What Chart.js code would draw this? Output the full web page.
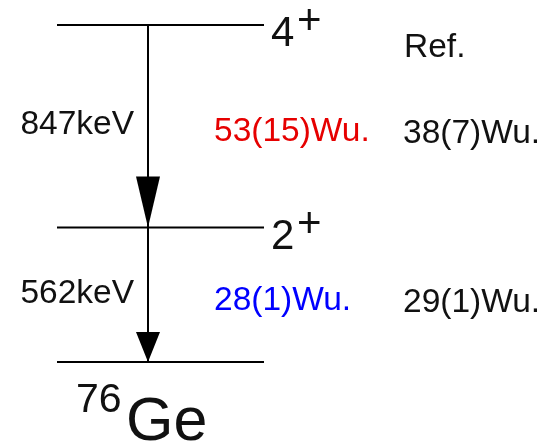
<!DOCTYPE html>
<html>
<head>
<meta charset="utf-8">
<script src="https://cdn.jsdelivr.net/npm/chart.js@4/dist/chart.umd.min.js"></script>
<style>
  html, body { margin: 0; padding: 0; background: #ffffff; }
  canvas { display: block; }
</style>
</head>
<body>
<canvas id="scheme" width="556" height="441"></canvas>
<script>
// 76Ge level scheme: level energies (keV), spins and parities
const levelEnergies = [0, 562, 1409];
const levelSpins = ['0', '2', '4'];
const levelParities = ['+', '+', '+'];

// E2 transitions between levels (indices into levelEnergies) and gamma energies (keV)
const transitionFrom = [2, 1];
const transitionTo = [1, 0];
const transitionEnergies = [847, 562];

// B(E2) strengths in Weisskopf units: this measurement and the reference values
const bE2Present = [53, 28];
const bE2PresentErr = [15, 1];
const bE2Ref = [38, 29];
const bE2RefErr = [7, 1];

const refHeader = 'Ref.';
const nucleusMass = '76';
const nucleusSymbol = 'Ge';

// ---- drawing style ----
const FONT = "'Liberation Sans', Arial, Helvetica, sans-serif";
const INK = '#111111';
const PRESENT_COLORS = ['#e60000', '#0000ff'];
const LABEL_SIZE = 33.5;
const LEVEL_X = [57, 264];      // horizontal extent of each level bar
const ARROW_X = 148;            // x of the gamma arrows
const HEAD_LEN = [51, 30];      // arrowhead lengths (px)
const HEAD_HALF = 12;           // arrowhead half width (px)

const fmtB = (v, e) => `${v}(${e})Wu.`;

const levelSets = levelEnergies.map(E => ({
  data: [{ x: LEVEL_X[0], y: E }, { x: LEVEL_X[1], y: E }],
  borderColor: '#000', borderWidth: 2, pointRadius: 0, showLine: true, clip: false
}));

const transitionSets = transitionFrom.map((f, i) => ({
  data: [{ x: ARROW_X, y: levelEnergies[f] }, { x: ARROW_X, y: levelEnergies[transitionTo[i]] }],
  borderColor: '#000', borderWidth: 2, pointRadius: 0, showLine: true, clip: false,
  isTransition: true, transitionIndex: i
}));

// Arrowheads at the lower end of each transition
const arrowHeads = {
  id: 'arrowHeads',
  afterDatasetsDraw(chart) {
    const ctx = chart.ctx;
    chart.data.datasets.forEach((ds, di) => {
      if (!ds.isTransition) return;
      const pts = chart.getDatasetMeta(di).data;
      const tip = pts[pts.length - 1];
      const len = HEAD_LEN[ds.transitionIndex];
      ctx.save();
      ctx.fillStyle = '#000';
      ctx.beginPath();
      ctx.moveTo(tip.x, tip.y);
      ctx.lineTo(tip.x - HEAD_HALF, tip.y - len);
      ctx.lineTo(tip.x + HEAD_HALF, tip.y - len);
      ctx.closePath();
      ctx.fill();
      ctx.restore();
    });
  }
};

// Spin labels, transition energies, B(E2) values and nucleus name
const schemeText = {
  id: 'schemeText',
  afterDatasetsDraw(chart) {
    const ctx = chart.ctx;
    const y = chart.scales.y;
    const py = E => y.getPixelForValue(E);
    const put = (txt, x, yy, size, color, align) => {
      ctx.font = `${size}px ${FONT}`;
      ctx.fillStyle = color;
      ctx.textAlign = align || 'left';
      ctx.textBaseline = 'alphabetic';
      ctx.fillText(txt, x, yy);
    };
    ctx.save();

    // J^pi of the excited levels
    levelEnergies.forEach((E, i) => {
      if (i === 0) return;
      const p = py(E);
      put(levelSpins[i], 271, p + 21, 42, INK);
      put(levelParities[i], 297, p + 9, 42, INK);
    });

    // column header for the reference values
    put(refHeader, 404, py(levelEnergies[2]) + 32, LABEL_SIZE, INK);

    // per-transition labels
    transitionFrom.forEach((f, i) => {
      const mid = (py(levelEnergies[f]) + py(levelEnergies[transitionTo[i]])) / 2;
      put(`${transitionEnergies[i]}keV`, 134, mid + 8, LABEL_SIZE, INK, 'right');
      put(fmtB(bE2Present[i], bE2PresentErr[i]), 214, mid + 15, LABEL_SIZE, PRESENT_COLORS[i]);
      put(fmtB(bE2Ref[i], bE2RefErr[i]), 403, mid + 17, LABEL_SIZE, INK);
    });

    // nucleus name under the ground state
    const g = py(levelEnergies[0]);
    put(nucleusMass, 76, g + 50, 41, INK);
    put(nucleusSymbol, 126, g + 78, 61, INK);

    ctx.restore();
  }
};

new Chart(document.getElementById('scheme'), {
  type: 'scatter',
  data: { datasets: [...levelSets, ...transitionSets] },
  options: {
    responsive: false,
    devicePixelRatio: 1,
    animation: false,
    layout: { padding: 0 },
    plugins: { legend: { display: false }, tooltip: { enabled: false } },
    scales: {
      x: { type: 'linear', min: 0, max: 556, display: false },
      y: { type: 'linear', min: -330.3, max: 1513.5, display: false }
    }
  },
  plugins: [arrowHeads, schemeText]
});
</script>
</body>
</html>
